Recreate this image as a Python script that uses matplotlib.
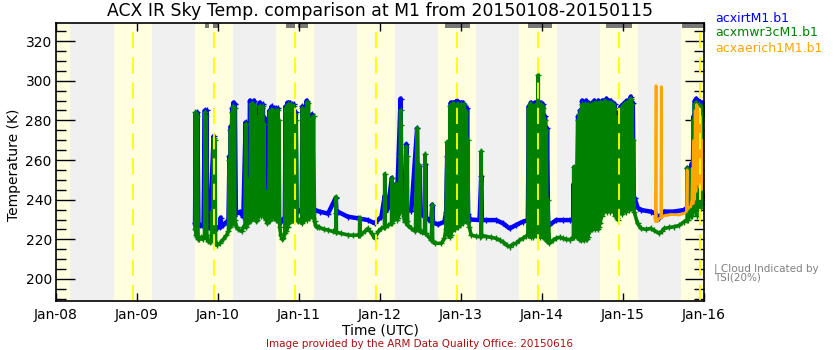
import numpy as np
import matplotlib
matplotlib.use('Agg')
import matplotlib.pyplot as plt
import matplotlib.dates as mdates
from matplotlib.ticker import MultipleLocator

# hours since 2015-01-08 00:00 UTC
sunrise_h = [17.2, 41.2, 65.2, 89.2, 113.2, 137.2, 161.2, 185.2]
sunset_h = [4.2, 28.4, 52.4, 76.4, 100.4, 124.4, 148.4, 172.4]
noon_h = [22.8, 46.8, 70.8, 94.8, 118.8, 142.8, 166.8, 190.8]
tsi_cloud_h = [(44.1, 45.3), (46.5, 48.3), (68.1, 70.8), (71.7, 74.7),
               (115.3, 122.7), (139.9, 147.0), (163.0, 170.7), (185.5, 192.0)]

# (hour, K)
irt = [(41.2, 228), (41.4, 283), (41.6, 226), (41.9, 284), (42.2, 227), (42.7, 227.2), (43.7, 226.5),
       (44.1, 285), (44.3, 226), (44.6, 285), (44.8, 226), (45.6, 225.5), (46.7, 272), (46.9, 226),
       (47.6, 225.5), (48.6, 226.4), (48.8, 231), (49.0, 226.5), (49.6, 227.2), (50.6, 228.9), (51.1, 229.5),
       (51.4, 262), (51.6, 230), (51.8, 277), (52.0, 231), (52.2, 286), (52.4, 231), (52.6, 289), (52.8, 232),
       (53.0, 288), (53.3, 233), (54.5, 233.9), (55.5, 231.4), (56.2, 279), (56.4, 232), (57.0, 233),
       (57.5, 290), (57.8, 234), (58.1, 289), (58.4, 234), (58.7, 290), (59.0, 233), (59.5, 233.5),
       (60.1, 284), (60.4, 289), (60.7, 234), (61.0, 286), (61.3, 288), (61.6, 234), (61.9, 281), (62.2, 234),
       (62.6, 234), (63.3, 285), (63.6, 234), (63.9, 287), (64.2, 233), (64.5, 286), (64.8, 233), (65.1, 286),
       (65.4, 232), (65.7, 286), (66.0, 231), (66.4, 229.5), (66.7, 228.9), (67.4, 229.7), (67.8, 231.4),
       (68.0, 287), (68.3, 233), (68.6, 289), (68.9, 234), (69.2, 289), (69.5, 234), (69.8, 288), (70.1, 235),
       (70.4, 288), (70.7, 235), (71.0, 284), (71.3, 234), (71.8, 234.5), (72.8, 234), (73.0, 287), (73.3, 234),
       (74.3, 290), (74.6, 234), (75.8, 283), (76.1, 234), (76.8, 234.8), (78.2, 233.9),
       (80.6, 233), (82.9, 241), (83.1, 233.5), (83.5, 233.9), (86.5, 231.4), (89.5, 230.6), (92.4, 229.7),
       (94.4, 228.1), (96.4, 231.4), (97.4, 242), (97.6, 234), (98.3, 235.6), (99.5, 251), (99.7, 236),
       (100.3, 237.3), (100.8, 248), (101.0, 237), (102.1, 291), (102.3, 237), (103.3, 236), (103.8, 268),
       (104.0, 235), (105.3, 234.5), (107.0, 276), (107.2, 233.5), (107.7, 257), (107.9, 233), (109.2, 231.4),
       (109.4, 258), (109.6, 231), (111.2, 228.9), (111.5, 237.5), (111.7, 228.5), (113.2, 227.5),
       (115.1, 228.9), (115.6, 233.9), (115.9, 262), (116.1, 234),
       (116.4, 268), (116.7, 232), (117.0, 289), (117.3, 233), (117.6, 289), (117.9, 234), (118.2, 289),
       (118.5, 234), (118.8, 290), (119.1, 234), (119.4, 289), (119.7, 235), (120.0, 289), (120.3, 235),
       (120.6, 289), (120.9, 235), (121.2, 287), (121.5, 234), (121.8, 286), (122.1, 233),
       (122.7, 230), (125.5, 229.7), (126.0, 252), (126.2, 229.7), (127.5, 229.7), (130.4, 229.7),
       (132.4, 228.1), (134.4, 225.5), (136.3, 227.2), (138.3, 228.9), (139.8, 229.7),
       (140.1, 287), (140.4, 230), (140.7, 289), (141.0, 231), (141.3, 288), (141.6, 230), (141.9, 289),
       (142.2, 231), (142.5, 289), (142.8, 230), (143.1, 289), (143.4, 231), (143.7, 289), (144.0, 230),
       (144.3, 288), (144.6, 229), (144.9, 282), (145.2, 228), (145.5, 276), (145.8, 228),
       (146.2, 227.2), (148.2, 229.7), (150.2, 229.7), (152.2, 229.7), (153.3, 229.5), (153.4, 248), (153.5, 229.7),
       (153.8, 238), (154.1, 229), (154.4, 240), (154.7, 282), (155.0, 229), (155.3, 285), (155.6, 229),
       (155.9, 290), (156.2, 229), (156.5, 289), (156.8, 230), (157.1, 290), (157.4, 230), (157.7, 289),
       (158.0, 231), (158.3, 287), (158.6, 232), (158.9, 289), (159.2, 233), (159.5, 290), (159.8, 233),
       (160.1, 289), (160.4, 234), (160.7, 290), (161.0, 235), (161.3, 289), (161.6, 236), (161.9, 290),
       (162.2, 237), (162.5, 290), (162.8, 237), (163.1, 291), (163.4, 238), (163.7, 290), (164.0, 238),
       (164.3, 290), (164.6, 238), (164.9, 289), (165.2, 237), (165.5, 288), (165.8, 236), (166.1, 282),
       (166.4, 236), (166.7, 284), (167.0, 237), (167.3, 287), (167.6, 238), (167.9, 288), (168.2, 238),
       (168.5, 289), (168.8, 238), (169.1, 290), (169.4, 239), (169.7, 289), (170.0, 239), (170.3, 292),
       (170.6, 240), (170.9, 289), (171.2, 241),
       (171.5, 240.7), (172.3, 236), (173.3, 234.8), (176.2, 234), (177.7, 233), (178.2, 230.5), (178.7, 231),
       (179.4, 232.5), (180.2, 234), (183.1, 234), (186.1, 234.8), (187.0, 236), (187.1, 256), (187.2, 236),
       (187.6, 236.5), (188.1, 238), (188.3, 258), (188.4, 238),
       (188.7, 250), (188.9, 282), (189.1, 240), (189.3, 290), (189.5, 241), (189.7, 291), (189.9, 240),
       (190.1, 278), (190.3, 241), (190.5, 290), (190.7, 242), (190.9, 288), (191.1, 241), (191.3, 289),
       (191.5, 243), (191.7, 284), (191.9, 242), (192.0, 286)]

mwr = [(41.2, 225), (41.3, 284), (41.5, 222), (41.6, 283), (41.8, 221), (41.9, 282), (42.1, 220), (42.5, 220),
       (43.0, 221), (43.5, 220), (44.0, 222), (44.2, 284), (44.4, 221), (44.5, 282), (44.7, 222), (45.0, 219),
       (45.5, 218.5), (46.0, 219), (46.3, 234), (46.4, 219), (46.7, 271), (46.9, 219), (47.1, 270), (47.3, 218),
       (47.6, 217), (48.5, 218), (49.6, 220), (50.5, 222), (51.1, 224),
       (51.4, 260), (51.5, 226), (51.7, 275), (51.9, 227), (52.1, 284), (52.3, 228), (52.5, 287), (52.7, 228),
       (52.9, 286), (53.0, 230), (53.5, 226), (54.0, 225), (55.0, 224), (55.5, 226), (56.0, 227), (56.2, 278),
       (56.4, 226), (56.6, 229), (57.0, 228),
       (57.3, 250), (57.5, 229), (57.7, 288), (57.9, 230), (58.1, 288), (58.3, 232), (58.5, 288), (58.7, 231),
       (58.9, 287), (59.1, 231), (59.4, 229), (59.7, 230),
       (60.0, 282), (60.2, 232), (60.4, 287), (60.6, 232), (60.8, 284), (61.0, 233), (61.2, 287), (61.4, 232),
       (61.6, 278), (61.8, 232), (62.2, 230), (62.5, 244), (62.6, 228), (62.8, 240), (63.0, 229),
       (63.3, 284), (63.5, 230), (63.7, 285), (63.9, 231), (64.1, 285), (64.3, 232), (64.5, 284), (64.7, 231),
       (64.9, 285), (65.1, 230), (65.3, 284), (65.5, 230), (65.7, 285), (65.9, 229), (66.1, 280), (66.3, 226),
       (66.6, 222), (67.0, 220), (67.4, 220.5), (67.8, 223),
       (68.0, 286), (68.2, 224), (68.4, 287), (68.6, 226), (68.8, 288), (69.0, 228), (69.2, 287), (69.4, 229),
       (69.6, 288), (69.8, 230), (70.0, 286), (70.2, 230), (70.4, 287), (70.6, 231), (70.8, 283), (71.0, 231),
       (71.2, 280), (71.4, 230), (71.8, 229), (72.3, 230), (72.8, 228), (73.0, 286), (73.2, 229), (73.4, 285),
       (73.6, 230), (74.0, 231), (74.3, 289), (74.5, 230), (74.8, 289), (75.0, 231), (75.4, 232), (75.8, 281),
       (76.0, 231), (76.3, 282), (76.6, 229), (76.9, 227), (77.3, 226), (78.0, 226),
       (79.5, 225), (80.6, 224.7), (82.0, 224), (82.9, 223.5), (83.0, 241.5), (83.1, 223.5), (84.5, 223),
       (86.5, 222.2), (88.0, 222), (89.5, 222.2), (89.9, 222), (90.0, 231), (90.1, 222), (91.5, 224),
       (92.4, 225.5), (93.5, 223), (94.4, 220.5), (95.5, 224), (96.4, 225.5), (97.3, 226), (97.4, 253),
       (97.5, 226), (98.3, 227), (99.4, 228), (99.5, 250.7), (99.6, 228), (100.3, 230.6), (100.8, 248),
       (100.9, 230), (101.3, 244), (101.4, 231), (101.8, 233.9), (102.0, 262), (102.1, 285), (102.2, 240),
       (102.3, 277.6), (102.4, 236), (103.0, 232), (103.3, 228.9), (103.8, 266.7), (103.9, 229), (104.1, 262),
       (104.2, 227), (105.3, 225.5), (106.5, 224), (107.0, 276), (107.1, 226), (107.2, 250), (107.3, 225),
       (107.4, 258), (107.5, 225), (107.7, 257), (107.8, 224), (108.5, 223.5), (109.2, 223), (109.4, 263),
       (109.5, 223), (111.2, 219.6), (111.5, 237.3), (111.6, 219), (112.2, 218), (114.2, 218), (115.1, 220.5),
       (115.5, 225), (115.9, 269.2), (116.1, 227),
       (116.2, 268), (116.3, 222), (116.5, 264), (116.6, 221), (116.8, 287), (117.0, 222), (117.2, 288),
       (117.4, 224), (117.6, 288), (117.8, 226), (118.0, 288), (118.2, 225), (118.4, 287), (118.6, 227),
       (118.8, 288), (119.0, 226), (119.2, 288), (119.4, 228), (119.6, 287), (119.8, 227), (120.0, 288),
       (120.2, 229), (120.4, 287), (120.6, 228), (120.8, 288), (121.0, 230), (121.2, 285), (121.4, 229),
       (121.6, 284), (121.8, 229), (122.0, 270), (122.2, 229), (122.5, 226),
       (123.0, 222.2), (124.5, 221.5), (125.5, 221.4), (125.9, 221.5), (126.0, 264.5), (126.1, 222),
       (127.5, 221.4), (129.0, 221), (130.4, 220.5), (131.5, 219.5), (132.4, 218.8), (133.5, 217),
       (134.4, 216.3), (135.3, 217.5), (136.3, 218), (137.3, 219.5), (138.3, 220.5), (139.2, 221.5),
       (139.8, 222.2),
       (140.0, 286), (140.2, 222), (140.4, 288), (140.6, 221), (140.8, 288), (141.0, 222), (141.2, 285),
       (141.4, 221), (141.6, 287), (141.8, 223), (142.0, 284), (142.2, 222), (142.4, 288), (142.6, 223),
       (142.9, 303), (143.0, 222), (143.2, 288), (143.4, 221), (143.6, 288), (143.8, 222), (144.0, 287),
       (144.2, 221), (144.4, 286), (144.6, 222), (144.8, 280), (145.0, 220), (145.3, 275), (145.5, 219),
       (145.7, 240), (146.2, 218),
       (147.2, 219.5), (148.2, 220.5), (149.2, 221), (150.2, 220.5), (151.2, 220), (152.2, 219.8),
       (153.3, 221), (153.4, 256.6), (153.5, 221), (154.1, 222),
       (154.3, 239), (154.5, 221), (154.7, 280), (154.9, 220), (155.1, 283), (155.3, 220), (155.5, 285),
       (155.7, 219.5), (155.9, 288), (156.1, 220), (156.3, 287), (156.5, 219.5), (156.7, 288), (156.9, 220),
       (157.1, 286), (157.3, 220), (157.5, 288), (157.7, 221), (157.9, 287), (158.1, 224), (158.3, 284),
       (158.5, 225), (158.7, 288), (158.9, 225), (159.1, 286), (159.3, 226), (159.5, 288), (159.7, 225),
       (159.9, 289), (160.1, 226), (160.3, 287), (160.5, 225), (160.7, 288), (160.9, 226), (161.1, 289),
       (161.3, 228), (161.5, 289), (161.7, 232), (161.9, 288), (162.1, 234), (162.3, 289), (162.5, 234),
       (162.7, 290), (162.9, 235), (163.1, 288), (163.3, 234), (163.5, 289), (163.7, 235), (163.9, 288),
       (164.1, 234), (164.3, 289), (164.5, 235), (164.7, 287), (164.9, 234), (165.1, 288), (165.3, 235),
       (165.5, 286), (165.7, 232), (165.9, 280), (166.1, 231), (166.3, 279), (166.5, 230), (166.7, 282),
       (166.9, 233), (167.1, 285), (167.3, 234), (167.5, 286), (167.7, 233), (167.9, 287), (168.1, 234),
       (168.3, 288), (168.5, 235), (168.7, 287), (168.9, 234), (169.1, 289), (169.3, 236), (169.5, 288),
       (169.7, 235), (169.9, 290), (170.1, 236), (170.3, 291), (170.5, 236), (170.7, 288), (170.9, 236),
       (171.1, 270), (171.3, 234),
       (172.3, 228), (173.3, 225.5), (174.8, 225), (176.2, 225.5), (177.2, 224.5), (178.7, 223),
       (179.5, 224), (180.2, 225.5), (181.7, 226), (183.1, 226.3), (184.6, 227), (186.1, 228.9),
       (187.0, 230), (187.1, 256), (187.2, 230), (187.6, 231.4), (188.1, 232), (188.3, 255), (188.4, 232),
       (188.6, 234), (188.8, 280), (189.0, 235), (189.2, 288), (189.4, 236), (189.6, 289), (189.8, 232),
       (190.0, 275), (190.2, 236), (190.4, 288), (190.6, 237), (190.8, 286), (191.0, 236), (191.2, 287),
       (191.4, 240), (191.6, 282), (191.8, 238), (192.0, 284)]

aeri = [(177.4, 231), (177.6, 229), (177.8, 297.5), (177.9, 229), (178.3, 229.5), (178.7, 230.5),
        (179.2, 231), (179.3, 263), (179.35, 297), (179.4, 231), (180.2, 232), (181.0, 232), (182.0, 232.5),
        (183.1, 232.5), (184.5, 232.3), (186.1, 233), (186.8, 234), (187.0, 255), (187.1, 235), (187.6, 236),
        (188.1, 236.5), (188.4, 240), (188.6, 256), (188.8, 238), (189.0, 270), (189.2, 240), (189.4, 285),
        (189.6, 244), (189.8, 288), (190.0, 248), (190.2, 287), (190.4, 250), (190.6, 275), (190.8, 246),
        (191.0, 282), (191.2, 245), (191.4, 260), (191.6, 250), (191.8, 270), (192.0, 255)]

t0 = mdates.date2num(np.datetime64('2015-01-08T00:00'))


def tnum(h):
    return t0 + np.asarray(h, dtype=float) / 24.0


fig = plt.figure(figsize=(8.4, 3.5), dpi=100)
ax = fig.add_axes([56 / 840, 49 / 350, 648 / 840, 278 / 350])
ax.set_facecolor('#f0f0f0')

# daylight shading
ax.axvspan(tnum(0), tnum(sunset_h[0]), color='#ffffe0', lw=0, zorder=0)
for a, b in zip(sunrise_h, sunset_h[1:] + [200]):
    ax.axvspan(tnum(a), tnum(b), color='#ffffe0', lw=0, zorder=0)

# cloud flags along the top
for a, b in tsi_cloud_h:
    ax.axvspan(tnum(a), tnum(b), ymin=1 - 5 / 278, ymax=1, color='#777777', lw=0, zorder=1)

for data, col, z, lw, mk in [(irt, '#0000ff', 2, 3.2, '+'),
                             (mwr, '#008000', 3, 2.6, '+'),
                             (aeri, '#ffa500', 4, 2.0, None)]:
    d = np.array(data)
    ax.plot(tnum(d[:, 0]), d[:, 1], color=col, lw=lw, marker=mk, ms=4.5, mew=1, zorder=z)

for h in noon_h:
    ax.axvline(tnum(h), color='#ffff00', lw=1.3, ls=(0, (9, 5)), zorder=5)

ax.set_xlim(tnum(0), tnum(192))
ax.set_ylim(188.9, 329.1)
ax.xaxis.set_major_locator(mdates.DayLocator())
ax.xaxis.set_major_formatter(mdates.DateFormatter('%b-%d'))
ax.yaxis.set_major_locator(MultipleLocator(20))
ax.yaxis.set_minor_locator(MultipleLocator(5))
ax.tick_params(axis='x', which='major', direction='in', length=6, width=1,
               top=True, bottom=True, pad=5, labelsize=10)
ax.tick_params(axis='y', which='major', direction='in', length=14, width=1,
               left=True, right=True, pad=3, labelsize=10)
ax.tick_params(axis='y', which='minor', direction='in', length=7, width=1, left=True, right=True)
for s in ax.spines.values():
    s.set_linewidth(1.2)
    s.set_zorder(6)

fig.text(380 / 840, 1 - 11 / 350, 'ACX IR Sky Temp. comparison at M1 from 20150108-20150115',
         ha='center', va='center', fontsize=12.4)
fig.text(380 / 840, 1 - 331 / 350, 'Time (UTC)', ha='center', va='center', fontsize=10)
fig.text(14 / 840, 1 - 165 / 350, 'Temperature (K)', rotation=90, ha='center', va='center', fontsize=10)
fig.text(420 / 840, 1 - 344 / 350, 'Image provided by the ARM Data Quality Office: 20150616',
         ha='center', va='center', fontsize=7.5, color='#a81010')

fig.text(715 / 840, 1 - 18 / 350, 'acxirtM1.b1', color='#0000ff', va='center', fontsize=9)
fig.text(715 / 840, 1 - 33 / 350, 'acxmwr3cM1.b1', color='#008000', va='center', fontsize=9)
fig.text(715 / 840, 1 - 49 / 350, 'acxaerich1M1.b1', color='#ffa500', va='center', fontsize=9)
fig.text(714 / 840, 1 - 273 / 350, '| Cloud Indicated by\nTSI(20%)', color='#808080',
         va='center', fontsize=7.5, linespacing=0.9)

fig.savefig('out.png', dpi=100)
